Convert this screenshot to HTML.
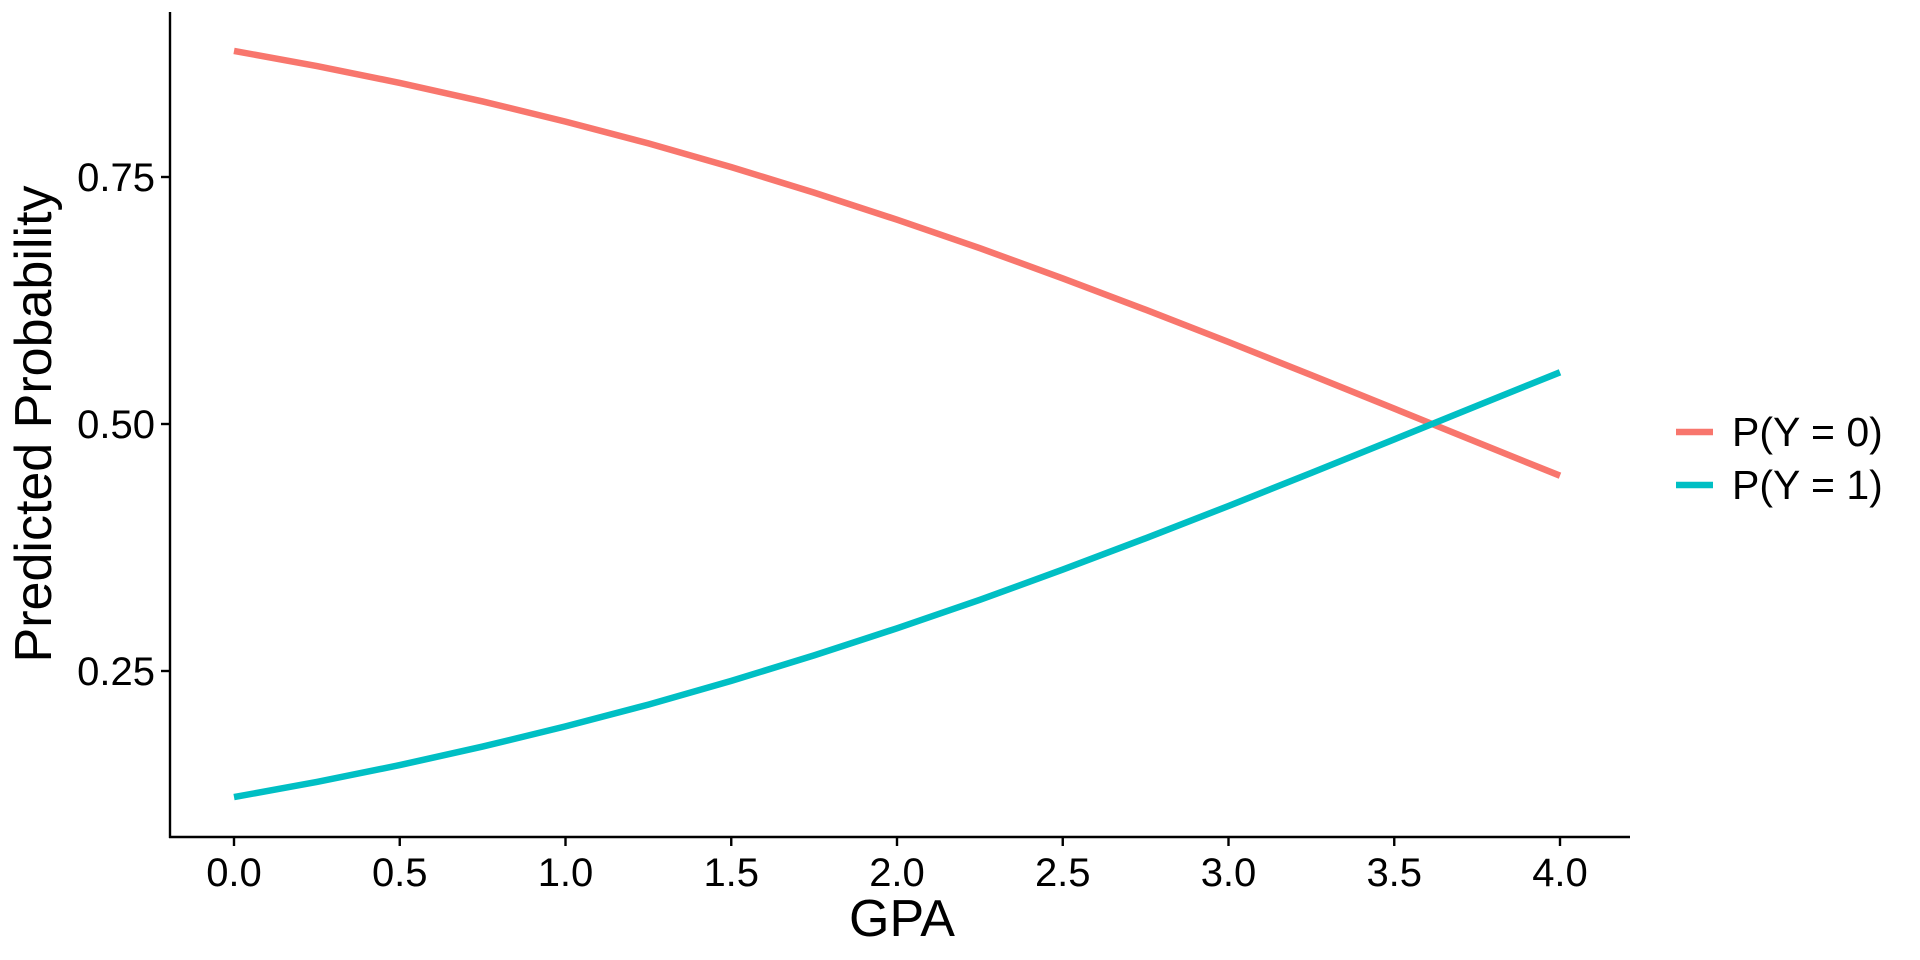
<!DOCTYPE html>
<html><head><meta charset="utf-8"><style>
body{margin:0;background:#fff;}
svg{display:block;font-family:"Liberation Sans",sans-serif;}
</style></head><body>
<svg id="chart" width="1920" height="960"></svg>
<script>
const gpa=[0,0.25,0.5,0.75,1,1.25,1.5,1.75,2,2.25,2.5,2.75,3,3.25,3.5,3.75,4];
const p1=[0.1224,0.1378,0.1548,0.1735,0.1939,0.2160,0.2400,0.2658,0.2932,0.3221,0.3526,0.3843,0.4170,0.4505,0.4844,0.5185,0.5523];
const p0=[0.8776,0.8622,0.8452,0.8265,0.8061,0.7840,0.7600,0.7342,0.7068,0.6779,0.6474,0.6157,0.5830,0.5495,0.5156,0.4815,0.4477];
const xTicks=[0,0.5,1,1.5,2,2.5,3,3.5,4];
const xTickLabels=["0.0","0.5","1.0","1.5","2.0","2.5","3.0","3.5","4.0"];
const yTicks=[0.25,0.5,0.75];
const yTickLabels=["0.25","0.50","0.75"];
const seriesNames=["P(Y = 0)","P(Y = 1)"];
const colors=["#F8766D","#00BFC4"];
const NS="http://www.w3.org/2000/svg";
const svg=document.getElementById('chart');
const X=v=>234+(1560-234)*v/4;
const Y=v=>424-(v-0.5)*(671-177)/0.5;
function el(t,a,txt){const e=document.createElementNS(NS,t);for(const k in a)e.setAttribute(k,a[k]);if(txt!=null)e.textContent=txt;svg.appendChild(e);return e;}
let e;
e=el('line',{x1:170,y1:12,x2:170,y2:838,stroke:'#000','stroke-width':2.4});


e=el('line',{x1:169,y1:837,x2:1630,y2:837,stroke:'#000','stroke-width':2.4});


xTicks.forEach((t,i)=>{
  e=el('line',{x1:X(t),y1:837,x2:X(t),y2:846,stroke:'#000','stroke-width':2.4});
  
  
  e=el('text',{x:X(t),y:886,'text-anchor':'middle','font-size':40,fill:'#000'},xTickLabels[i]);
  
  
});
yTicks.forEach((t,i)=>{
  e=el('line',{x1:161,y1:Y(t),x2:170,y2:Y(t),stroke:'#000','stroke-width':2.4});
  
  
  e=el('text',{x:155,y:Y(t)+14,'text-anchor':'end','font-size':40,fill:'#000'},yTickLabels[i]);
  
  
});
e=el('text',{x:902,y:936,'text-anchor':'middle','font-size':52,fill:'#000'},'GPA');


e=el('text',{x:0,y:0,transform:'translate(51,424) rotate(-90)','text-anchor':'middle','font-size':52,fill:'#000'},'Predicted Probability');


[p0,p1].forEach((s,j)=>{
  const d=s.map((v,i)=>(i?'L':'M')+X(gpa[i]).toFixed(1)+','+Y(v).toFixed(1)).join(' ');
  e=el('path',{d:d,fill:'none',stroke:colors[j],'stroke-width':6.5,'stroke-linejoin':'round'});
  
  
});
seriesNames.forEach((n,j)=>{
  const y=432+j*53;
  e=el('line',{x1:1676,y1:y,x2:1713,y2:y,stroke:colors[j],'stroke-width':6.5});
  
  
  e=el('text',{x:1732,y:y+14,'font-size':41,fill:'#000'},n);
  
  
});
</script>
</body></html>
